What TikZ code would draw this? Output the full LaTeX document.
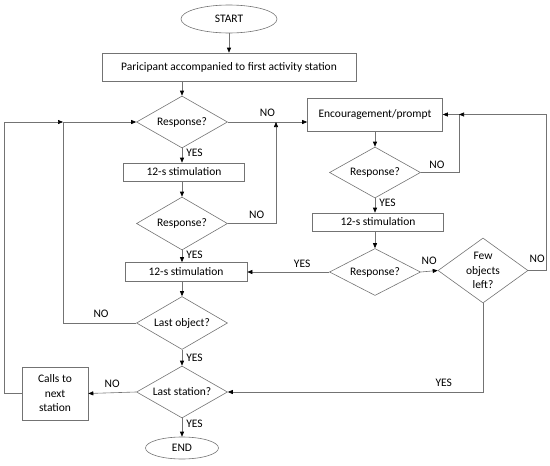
\documentclass[tikz,border=0pt]{standalone}
\usepackage{fontspec}
\setmainfont{Carlito}
\usepackage{tikz}
\usetikzlibrary{arrows.meta,positioning,shapes.geometric}
\newcommand{\flowfont}{\fontsize{11.5}{14.5}\selectfont}
\tikzset{
	box/.style={draw=black!55, line width=0.6pt, align=center, inner sep=2pt, font=\flowfont},
	decision/.style={diamond, draw=black!55, line width=0.6pt, align=center, aspect=2,
		inner sep=1pt, minimum width=91pt, minimum height=52pt, font=\flowfont},
	terminal/.style={ellipse, draw=black!55, line width=0.6pt, inner sep=0pt, font=\flowfont},
	arrow/.style={-{Triangle[length=5pt,width=4pt,color=black]}, draw=black!55, line width=0.6pt},
	plainline/.style={draw=black!55, line width=0.6pt},
	tinylabel/.style={font=\flowfont, inner sep=0pt}
}

\begin{document}
\begin{tikzpicture}[x=1pt, y=-1pt]
	\useasboundingbox (0,0) rectangle (550,466);
	
	%% -- Left column
	\node[terminal, minimum width=96pt, minimum height=28pt] (start) at (229,19) {START};
	\node[box, minimum width=254pt, minimum height=28pt] (enter) at (229,67)
	{Paricipant accompanied to first activity station};
	\node[decision] (resp1) at (182,122) {Response?};
	\node[box, minimum width=121pt, minimum height=18pt] (stim1) at (184,172) {12-s stimulation};
	\node[decision, minimum height=53pt] (resp2) at (182,223.5) {Response?};
	\node[box, minimum width=122pt, minimum height=19pt] (stim2) at (186,272) {12-s stimulation};
	\node[decision, minimum height=53pt] (lastobj) at (182,323) {Last object?};
	\node[decision] (laststation) at (182,392) {Last station?};
	\node[terminal, minimum width=73pt, minimum height=22pt] (end) at (182,448) {END};
	\node[box, minimum width=66pt, minimum height=53pt] (calls) at (55,393.5)
	{Calls to\\next\\station};
	
	%% -- Right column
	\node[box, minimum width=135pt, minimum height=33pt] (prompt) at (375,114.5)
	{Encouragement/prompt};
	\node[decision, minimum height=51pt] (resp3) at (375,172.5) {Response?};
	\node[box, minimum width=131pt, minimum height=18pt] (stim3) at (378,222) {12-s stimulation};
	\node[decision, minimum height=47pt] (resp4) at (375,272) {Response?};
	\node[decision, aspect=1.4, minimum width=90pt, minimum height=65pt] (few) at (483,270.5)
	{Few\\objects\\left?};
	
	%% -- Junctions
	\coordinate (jl) at (63,122);
	\coordinate (lo) at (4,122);
	\coordinate (jm) at (276,122);
	\coordinate (jr) at (459,114.5);
	\coordinate (ro) at (546,114.5);
	
	%% -- Main flow
	\draw[arrow] (start.south) -- (start.south |- enter.north);
	\draw[arrow] (resp1.north |- enter.south) -- (resp1.north);
	\draw[arrow] (resp1.south) -- (resp1.south |- stim1.north)
	node[pos=0.3, right=4pt, tinylabel] {YES};
	\draw[arrow] (resp2.north |- stim1.south) -- (resp2.north);
	\draw[arrow] (resp2.south) -- (resp2.south |- stim2.north)
	node[pos=0.35, right=4pt, tinylabel] {YES};
	\draw[arrow] (lastobj.north |- stim2.south) -- (lastobj.north);
	\draw[arrow] (lastobj.south) -- (laststation.north)
	node[midway, right=4pt, tinylabel] {YES};
	\draw[arrow] (laststation.south) -- (end.north)
	node[pos=0.3, right=4pt, tinylabel] {YES};
	\draw[arrow] (laststation.west) -- (calls.east)
	node[midway, above=5pt, tinylabel] {NO};
	
	%% -- Loops back on the left
	\draw[arrow] (calls.west) -| (lo) -- (jl);
	\draw[plainline] (lastobj.west) -| (jl)
	node[pos=0.24, above=5pt, tinylabel] {NO};
	\draw[arrow] (jl) -- (resp1.west);
	
	%% -- To the prompt
	\draw[arrow] (resp1.east) -- (resp1.east -| prompt.west)
	node[midway, above=5pt, tinylabel] {NO};
	\draw[arrow] (resp2.east) -| (jm)
	node[pos=0.3, above=5pt, tinylabel] {NO};
	\draw[arrow] (prompt.south) -- (resp3.north);
	\draw[arrow] (resp3.south) -- (resp3.south |- stim3.north)
	node[pos=0.3, right=4pt, tinylabel] {YES};
	\draw[arrow] (resp4.north |- stim3.south) -- (resp4.north);
	\draw[arrow] (resp4.west) -- (resp4.west -| stim2.east)
	node[pos=0.33, above=4pt, tinylabel] {YES};
	\draw[arrow] (resp4.east) -- (few.west)
	node[midway, above=6pt, tinylabel] {NO};
	
	%% -- Loops back on the right
	\draw[arrow] (resp3.east) -| (jr)
	node[pos=0.21, above=4pt, tinylabel] {NO}
	-- (prompt.east);
	\draw[arrow] (few.east) -| (ro)
	node[pos=0.25, above=8pt, tinylabel] {NO}
	-- (jr);
	\draw[arrow] (few.south) |- (laststation.east)
	node[pos=0.577, above=5pt, tinylabel] {YES};
	
\end{tikzpicture}
\end{document}
